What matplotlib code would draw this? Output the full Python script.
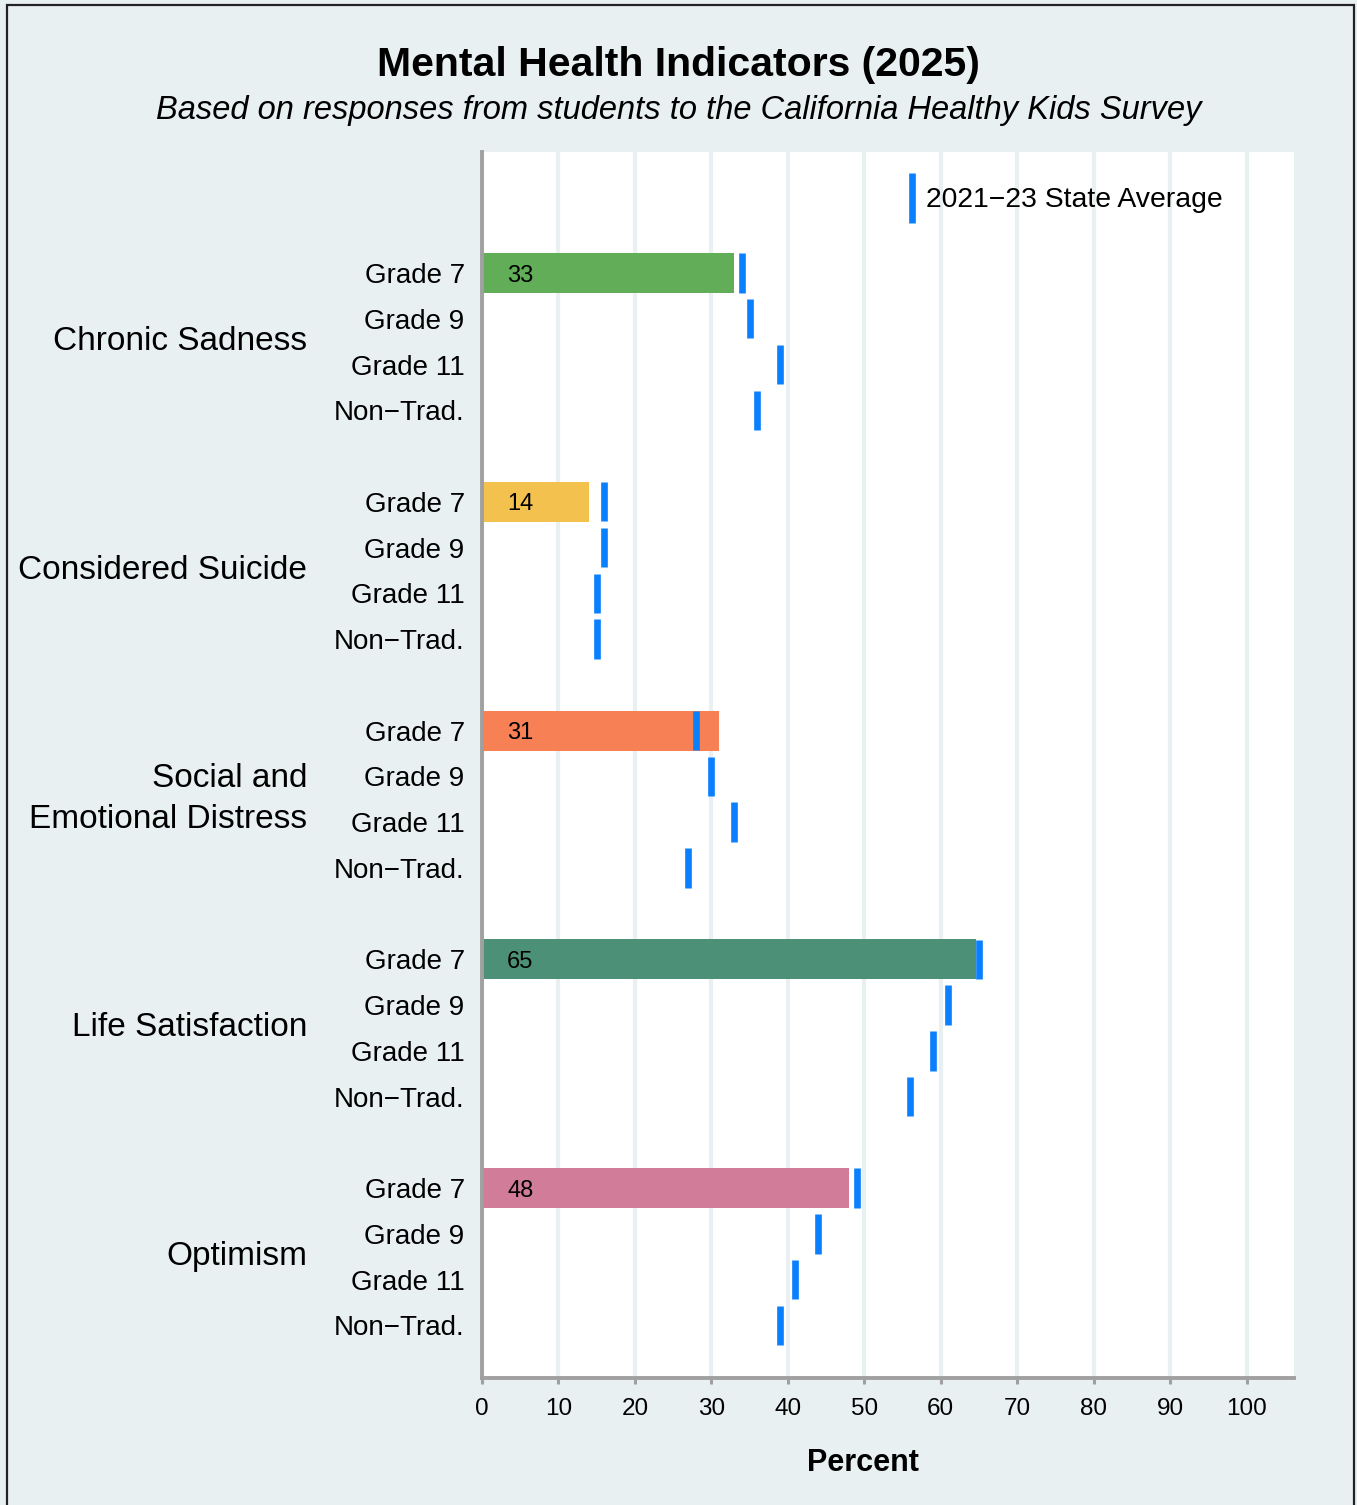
import matplotlib
matplotlib.use("Agg")
import matplotlib.pyplot as plt
from matplotlib.lines import Line2D
from matplotlib.patches import Rectangle
from matplotlib.transforms import blended_transform_factory

plt.rcParams['font.family'] = ['Liberation Sans', 'DejaVu Sans']

# ---------------- data ----------------
categories = ["Chronic Sadness", "Considered Suicide", "Social and\nEmotional Distress",
              "Life Satisfaction", "Optimism"]
grades = ["Grade 7", "Grade 9", "Grade 11", "Non\u2212Trad."]
grade7_values = [33, 14, 31, 64.6, 48]
state_avg = [
    [34, 35, 39, 36],
    [16, 16, 15, 15],
    [28, 30, 33, 27],
    [65, 61, 59, 56],
    [49, 44, 41, 39],
]
bar_colors = ["#62ad57", "#f2c14e", "#f78154", "#4d9078", "#d17d9a"]
x_ticks = [0, 10, 20, 30, 40, 50, 60, 70, 80, 90, 100]
legend_label = "2021\u221223 State Average"
title = "Mental Health Indicators (2025)"
subtitle = "Based on responses from students to the California Healthy Kids Survey"
xlabel = "Percent"

# ---------------- style ----------------
BG = "#e9f0f2"
MARK = "#0a80ff"
AXIS_GRAY = "#a0a0a0"
W, H = 1357, 1505
fig = plt.figure(figsize=(W / 100, H / 100), dpi=100, facecolor=BG)
ax = fig.add_axes([482 / W, 1 - 1378 / H, (1294 - 482) / W, (1378 - 152) / H])
ax.set_facecolor("white")

step = len(grades) + 1
ytick_pos, ytick_lab = [], []
trans = blended_transform_factory(ax.transAxes, ax.transData)
for g, cat in enumerate(categories):
    base = g * step
    # Grade 7 bar
    ax.barh(base, grade7_values[g], height=0.875, color=bar_colors[g], zorder=2)
    ax.text(3.3, base, f"{grade7_values[g]:.0f}", ha="left", va="center_baseline",
            fontsize=17, color="black", zorder=4)
    for i, gr in enumerate(grades):
        y = base + i
        ytick_pos.append(y)
        ytick_lab.append(gr)
        ax.vlines(state_avg[g][i], y - 0.43, y + 0.43, color=MARK, lw=4.8, zorder=3)
    ax.text(-0.2155, base + (len(grades) - 1) / 2, cat, transform=trans,
            ha="right", va="center", multialignment="right", fontsize=24,
            linespacing=1.4)

ax.set_xlim(0, 106.2)
ax.set_ylim(24.15, -2.645)
ax.set_yticks(ytick_pos)
ax.set_yticklabels(ytick_lab, fontsize=20)
ax.tick_params(axis="y", length=0, pad=12.5)
ax.set_xticks(x_ticks)
ax.set_xticklabels([str(t) for t in x_ticks], fontsize=17.5)
ax.tick_params(axis="x", length=4, width=2.2, color=AXIS_GRAY, pad=10.5)
ax.grid(axis="x", color=BG, lw=3, zorder=1)
ax.set_axisbelow(True)
for s in ["top", "right"]:
    ax.spines[s].set_visible(False)
for s in ["left", "bottom"]:
    ax.spines[s].set_color(AXIS_GRAY)
    ax.spines[s].set_linewidth(2.8)
ax.set_xlabel(xlabel, fontsize=22, fontweight="bold", labelpad=20)
ax.xaxis.label.set_x((863 - 482) / (1294 - 482))

handle = Line2D([], [], marker="|", ls="none", color=MARK, markersize=36,
                markeredgewidth=4.8)
ax.legend([handle], [legend_label], loc="center left", bbox_to_anchor=(0.521, 0.9605),
          frameon=False, fontsize=20.4, handlelength=0.5, handletextpad=0.25,
          borderpad=0, borderaxespad=0)

fig.text(0.5, 1 - 65 / H, title, ha="center", va="center", fontsize=29.5,
         fontweight="bold")
fig.text(0.5, 1 - 110 / H, subtitle, ha="center", va="center", fontsize=23.5,
         style="italic")

fig.patches.append(Rectangle((6.5 / W, -0.01), (1354 - 6.5) / W, 1.01 - 4.5 / H,
                             transform=fig.transFigure, fill=False,
                             edgecolor="#222222", lw=1.6, clip_on=False))

fig.savefig("out.png", dpi=100, facecolor=BG)
